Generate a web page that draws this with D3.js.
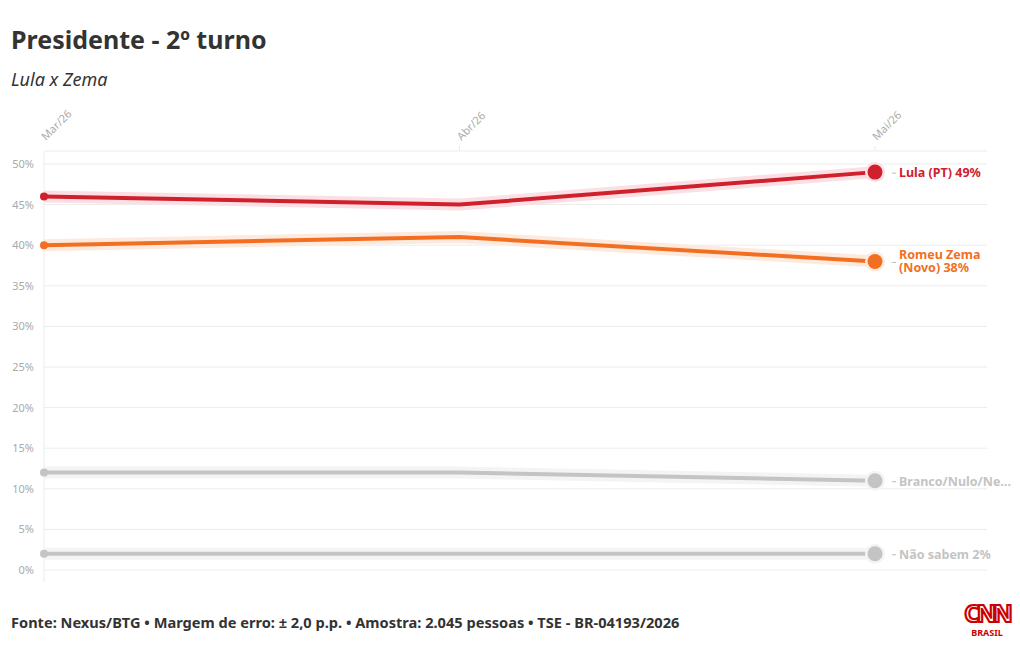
<!DOCTYPE html>
<html><head><meta charset="utf-8">
<script src="https://cdn.jsdelivr.net/npm/d3@7"></script>
<style>
body{margin:0;background:#fff;font-family:"Source Sans Pro","Noto Sans",sans-serif;}
</style></head><body><div id="chart"></div>
<script>
const months = ["Mar/26", "Abr/26", "Mai/26"];
const lula = [46, 45, 49];
const zema = [40, 41, 38];
const branco = [12, 12, 11];
const naoSabem = [2, 2, 2];
const yTicks = [0, 5, 10, 15, 20, 25, 30, 35, 40, 45, 50];

const series = [
  { values: lula, color: "#d0202e", glow: "#fbe0e3", label: ["Lula (PT) 49%"], width: 4 },
  { values: zema, color: "#f26f21", glow: "#fdeadf", label: ["Romeu Zema", "(Novo) 38%"], width: 4 },
  { values: branco, color: "#c4c4c4", glow: "#f4f4f4", label: ["Branco/Nulo/Ne..."], width: 4 },
  { values: naoSabem, color: "#c4c4c4", glow: "#f4f4f4", label: ["Não sabem 2%"], width: 4 }
];

const svg = d3.select("#chart").append("svg").attr("width", 1020).attr("height", 650);

const x = d3.scalePoint().domain(months).range([44, 875]);
const y = d3.scaleLinear().domain([0, 50]).range([570, 164]);

svg.append("text").attr("x", 11).attr("y", 49).attr("font-size", 25).attr("font-weight", 700)
  .attr("fill", "#333").text("Presidente - 2º turno");
svg.append("text").attr("x", 11).attr("y", 86).attr("font-size", 18).attr("font-style", "italic")
  .attr("fill", "#333").text("Lula x Zema");

// grid
svg.append("g").selectAll("line").data(yTicks).join("line")
  .attr("x1", 44).attr("x2", 987).attr("y1", d => y(d)).attr("y2", d => y(d))
  .attr("stroke", "#ececec");
svg.append("line").attr("x1", 44).attr("x2", 987).attr("y1", 151).attr("y2", 151).attr("stroke", "#ececec");
svg.append("line").attr("x1", 44).attr("x2", 44).attr("y1", 151).attr("y2", 582).attr("stroke", "#ececec");
svg.append("g").selectAll("line").data(months.slice(1)).join("line")
  .attr("x1", d => x(d)).attr("x2", d => x(d)).attr("y1", 146).attr("y2", 151).attr("stroke", "#ececec");

svg.append("g").selectAll("text").data(yTicks).join("text")
  .attr("x", 34).attr("y", d => y(d) + 4).attr("text-anchor", "end")
  .attr("font-size", 11).attr("fill", "#aaa").text(d => d + "%");

svg.append("g").selectAll("text").data(months).join("text")
  .attr("transform", d => `translate(${x(d) + 2},${141}) rotate(-45)`)
  .attr("font-size", 11).attr("fill", "#aaa").text(d => d);

const line = d3.line().x((d, i) => x(months[i])).y(d => y(d));

series.slice().reverse().forEach(s => {
  svg.append("path").datum(s.values).attr("d", line).attr("fill", "none")
    .attr("stroke", s.glow).attr("stroke-width", 12).attr("stroke-linejoin", "round");
  svg.append("path").datum(s.values).attr("d", line).attr("fill", "none")
    .attr("stroke", s.color).attr("stroke-width", s.width).attr("stroke-linejoin", "round");
  svg.append("circle").attr("cx", x(months[0])).attr("cy", y(s.values[0])).attr("r", 4).attr("fill", s.color);
  const last = s.values[s.values.length - 1];
  const lx = x(months[2]), ly = y(last);
  svg.append("circle").attr("cx", lx).attr("cy", ly).attr("r", 10).attr("fill", s.glow);
  svg.append("circle").attr("cx", lx).attr("cy", ly).attr("r", 7.5).attr("fill", s.color);
  svg.append("line").attr("x1", lx + 17).attr("x2", lx + 21).attr("y1", ly + 1).attr("y2", ly + 1)
    .attr("stroke", "#bbb");
  const t = svg.append("text").attr("x", lx + 24).attr("font-size", 12.5).attr("font-weight", 700)
    .attr("fill", s.color);
  const y0 = s.label.length > 1 ? ly - 2 : ly + 5;
  s.label.forEach((l, i) => t.append("tspan").attr("x", lx + 24).attr("y", y0 + i * 13).text(l));
});

svg.append("text").attr("x", 11).attr("y", 628).attr("font-size", 14.6).attr("font-weight", 700)
  .attr("fill", "#333")
  .text("Fonte: Nexus/BTG • Margem de erro: ± 2,0 p.p. • Amostra: 2.045 pessoas • TSE - BR-04193/2026");

svg.append("text").attr("x", 987).attr("y", 622).attr("text-anchor", "middle").attr("font-size", 24)
  .attr("font-weight", 700).attr("fill", "#fff").attr("stroke", "#cc0000").attr("stroke-width", 2.2)
  .attr("letter-spacing", -3).text("CNN");
svg.append("text").attr("x", 987).attr("y", 636).attr("text-anchor", "middle").attr("font-size", 9)
  .attr("font-weight", 700).attr("fill", "#cc0000").text("BRASIL");
</script></body></html>
